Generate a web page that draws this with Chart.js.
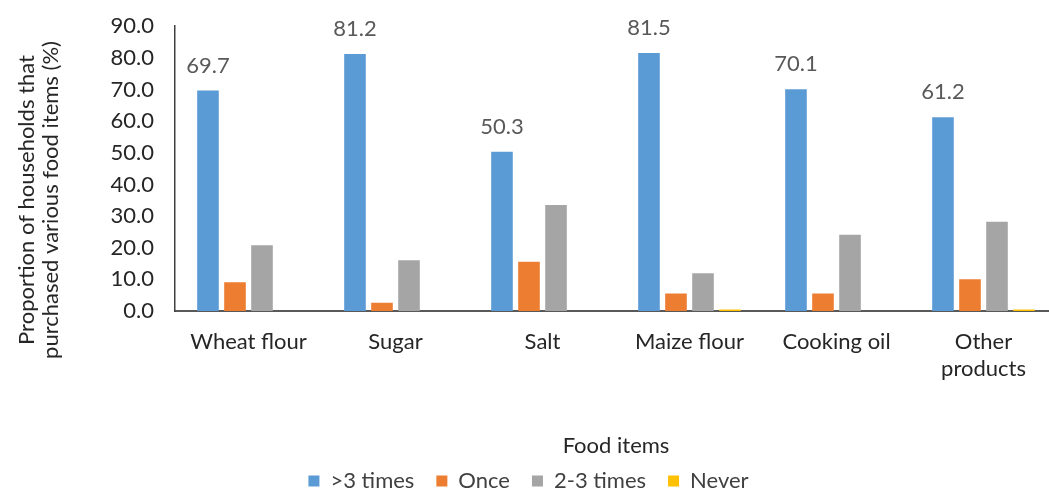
<!DOCTYPE html>
<html lang="en">
  <head>
    <meta charset="UTF-8" />
    <title>Food item purchases</title>
    <script src="https://cdn.jsdelivr.net/npm/chart.js@4.4.1/dist/chart.umd.min.js"></script>
    <style>
      body {
        margin: 0;
        background: #fff;
        overflow: hidden;
      }
      /* plot area runs slightly past the right edge of the page */
      #wrap {
        width: 1057px;
        height: 502px;
      }
    </style>
  </head>
  <body>
    <div id="wrap"><canvas id="chart"></canvas></div>
    <script>
      const categories = ["Wheat flour", "Sugar", "Salt", "Maize flour", "Cooking oil", ["Other", "products"]];
      const moreThan3 = [69.7, 81.2, 50.3, 81.5, 70.1, 61.2];
      const once = [9.1, 2.6, 15.6, 5.5, 5.5, 10.0];
      const twoToThree = [20.8, 16.0, 33.5, 11.9, 24.1, 28.2];
      const never = [0, 0, 0, 0.5, 0, 0.5];
      const yTicks = [0, 10, 20, 30, 40, 50, 60, 70, 80, 90];

      const FONT = "Lato";
      const TEXT = "#262626";

      // value labels above the ">3 times" bars
      const valueLabels = {
        id: "valueLabels",
        afterDatasetsDraw(chart) {
          const ctx = chart.ctx;
          const meta = chart.getDatasetMeta(0);
          ctx.save();
          ctx.font = `22px ${FONT}`;
          ctx.fillStyle = "#595959";
          ctx.textAlign = "center";
          ctx.textBaseline = "middle";
          meta.data.forEach((bar, i) => {
            ctx.fillText(moreThan3[i].toFixed(1), bar.x, bar.y - 25);
          });
          ctx.restore();
        },
      };

      // two-line rotated y axis title
      const yTitle = {
        id: "yTitle",
        afterDraw(chart) {
          const ctx = chart.ctx;
          ctx.save();
          ctx.translate(0, 200);
          ctx.rotate(-Math.PI / 2);
          ctx.font = `22px ${FONT}`;
          ctx.fillStyle = TEXT;
          ctx.textAlign = "center";
          ctx.textBaseline = "middle";
          ctx.fillText("Proportion of households that", 0, 27);
          ctx.fillText("purchased various food items (%)", 0, 51);
          ctx.restore();
        },
      };

      new Chart(document.getElementById("chart"), {
        type: "bar",
        data: {
          labels: categories,
          datasets: [
            { label: ">3 times", data: moreThan3, backgroundColor: "#5B9BD5" },
            { label: "Once", data: once, backgroundColor: "#ED7D31" },
            { label: "2-3 times", data: twoToThree, backgroundColor: "#A5A5A5" },
            { label: "Never", data: never, backgroundColor: "#FFC000" },
          ],
        },
        options: {
          responsive: true,
          maintainAspectRatio: false,
          animation: false,
          layout: { padding: { top: 21, right: 0, left: 0, bottom: 0 } },
          datasets: {
            bar: { barPercentage: 0.8, categoryPercentage: 0.735 },
          },
          plugins: {
            legend: {
              position: "bottom",
              labels: {
                font: { family: FONT, size: 22 },
                color: "#404040",
                boxWidth: 11,
                boxHeight: 11,
                padding: 22,
              },
            },
            tooltip: { enabled: false },
          },
          scales: {
            x: {
              grid: { display: false },
              border: { display: true, color: "#595959", width: 2 },
              ticks: {
                font: { family: FONT, size: 22 },
                color: TEXT,
                maxRotation: 0,
                autoSkip: false,
                padding: 10,
              },
              title: {
                display: true,
                text: "Food items",
                font: { family: FONT, size: 22 },
                color: TEXT,
                padding: { top: 0, bottom: -11 },
              },
              afterFit(scale) {
                scale.height = 137;
              },
            },
            y: {
              min: 0,
              max: 90,
              afterBuildTicks(scale) {
                scale.ticks = yTicks.map(v => ({ value: v }));
              },
              grid: { display: false },
              border: { display: true, color: "#404040", width: 1.5 },
              ticks: {
                font: { family: FONT, size: 22 },
                color: TEXT,
                padding: 13,
                callback: v => v.toFixed(1),
              },
              afterFit(scale) {
                scale.width = 175;
              },
            },
          },
        },
        plugins: [valueLabels, yTitle],
      });
    </script>
  </body>
</html>
